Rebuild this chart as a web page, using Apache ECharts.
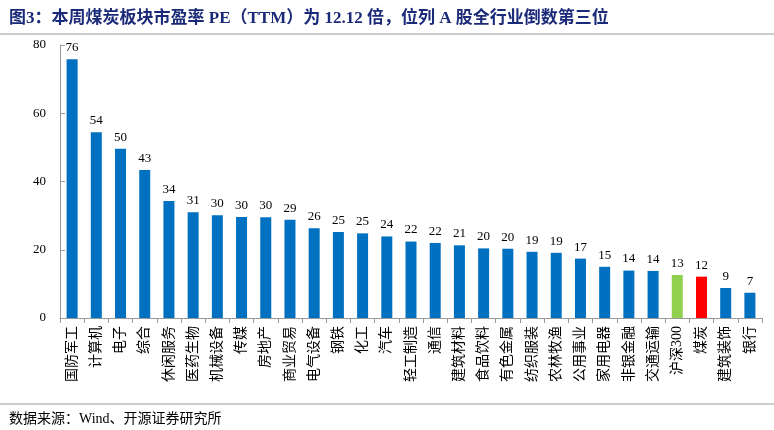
<!DOCTYPE html><html><head><meta charset="utf-8"><script src="https://cdn.jsdelivr.net/npm/echarts@6/dist/echarts.min.js"></script>
<style>body{margin:0}#c{width:774px;height:430px}</style></head><body><div id="c"></div><script>
const categories=["国防军工","计算机","电子","综合","休闲服务","医药生物","机械设备","传媒","房地产","商业贸易","电气设备","钢铁","化工","汽车","轻工制造","通信","建筑材料","食品饮料","有色金属","纺织服装","农林牧渔","公用事业","家用电器","非银金融","交通运输","沪深300","煤炭","建筑装饰","银行"];
const values=[75.8,54.4,49.6,43.4,34.3,31.0,30.1,29.6,29.5,28.8,26.3,25.2,24.8,23.9,22.4,22.0,21.3,20.4,20.3,19.4,19.1,17.4,15.0,13.9,13.8,12.6,12.12,8.8,7.4];
const yTicks=[0,20,40,60,80];
const colors={"沪深300":"#92d050","煤炭":"#ff0000"};
const ch=echarts.init(document.getElementById('c'));
const serif='"Liberation Serif","Noto Sans CJK SC",serif';
ch.setOption({
 animation:false,
 title:[{text:"图3：本周煤炭板块市盈率 PE（TTM）为 12.12 倍，位列 A 股全行业倒数第三位",left:4,top:5,textStyle:{color:"#1b2a78",fontSize:17,fontWeight:"bold",fontFamily:serif}},
  {text:"数据来源：Wind、开源证券研究所",left:4,top:407,textStyle:{color:"#000",fontSize:14,fontWeight:"normal",fontFamily:serif}}],
 graphic:[{type:"line",shape:{x1:0,y1:34,x2:774,y2:34},style:{stroke:"#999",lineWidth:1}},
  {type:"line",shape:{x1:0,y1:404,x2:774,y2:404},style:{stroke:"#999",lineWidth:1}}],
 grid:{left:60,right:12,top:45,bottom:112},
 xAxis:{type:"category",data:categories,axisTick:{show:true,interval:0,lineStyle:{color:"#999"}},axisLine:{lineStyle:{color:"#999"}},
  axisLabel:{rotate:90,interval:0,color:"#000",fontSize:14,fontFamily:serif,margin:8}},
 yAxis:{type:"value",min:0,max:80,interval:20,splitLine:{show:false},axisLine:{show:true,lineStyle:{color:"#999"}},axisTick:{show:true,inside:true,lineStyle:{color:"#999"}},
  axisLabel:{color:"#000",fontSize:13,fontFamily:serif,margin:14,formatter:v=>yTicks.includes(v)?v:""}},
 series:[{type:"bar",barWidth:11,data:values.map((v,i)=>({value:v,itemStyle:{color:colors[categories[i]]||"#0070c0"}})),
  label:{show:true,position:"top",color:"#000",fontSize:13,fontFamily:serif,formatter:p=>Math.round(p.value)}}]
});
</script></body></html>
